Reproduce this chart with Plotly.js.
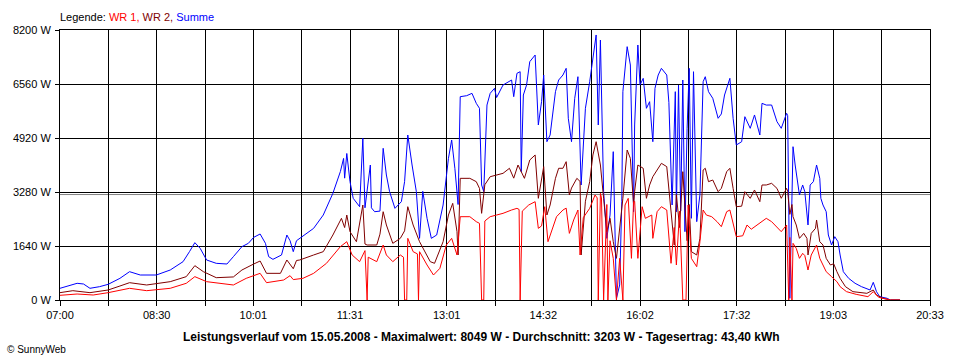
<!DOCTYPE html>
<html><head><meta charset="utf-8">
<script src="https://cdn.plot.ly/plotly-3.0.1.min.js"></script>
<style>body{margin:0;background:#fff}#chart{width:960px;height:360px}</style>
</head><body><div id="chart"></div>
<script>
// ---- data ----
const xTickLabels = ["07:00","08:30","10:01","11:31","13:01","14:32","16:02","17:32","19:03","20:33"];
const yTickValues = [0,1640,3280,4920,6560,8200];
const averageW = [3203];

const sumTimes = ["07:00","07:16","07:22","07:28","07:37","07:45","07:56","08:05","08:15","08:30","08:43","08:55","09:01","09:06","09:11","09:17","09:26","09:36","09:42","09:50","09:56","10:01","10:07","10:12","10:15","10:19","10:27","10:32","10:35","10:38","10:41","10:44","10:57","11:06","11:15","11:22","11:25","11:26","11:28","11:31","11:34","11:40","11:43","11:45","11:50","11:51","11:54","11:59","12:02","12:05","12:08","12:13","12:19","12:22","12:25","12:29","12:33","12:36","12:39","12:43","12:47","12:52","12:58","13:03","13:06","13:09","13:12","13:14","13:20","13:25","13:29","13:32","13:34","13:36","13:39","13:42","13:46","13:48","13:54","14:02","14:04","14:07","14:10","14:11","14:13","14:16","14:19","14:24","14:27","14:30","14:32","14:35","14:38","14:43","14:46","14:50","14:53","14:55","14:58","15:01","15:04","15:07","15:11","15:15","15:18","15:21","15:23","15:25","15:28","15:31","15:34","15:37","15:40","15:43","15:45","15:46","15:50","15:53","15:56","15:57","16:00","16:02","16:05","16:08","16:11","16:14","16:16","16:19","16:22","16:27","16:29","16:32","16:35","16:36","16:38","16:40","16:42","16:44","16:46","16:48","16:50","16:52","16:55","16:58","17:01","17:03","17:06","17:10","17:15","17:18","17:21","17:26","17:29","17:32","17:37","17:40","17:45","17:49","17:54","17:56","18:00","18:05","18:10","18:14","18:19","18:20","18:22","18:24","18:25","18:27","18:30","18:31","18:34","18:36","18:39","18:41","18:44","18:47","18:50","18:51","18:53","18:56","18:58","19:01","19:04","19:07","19:09","19:12","19:17","19:23","19:29","19:37","19:40","19:43","19:46","19:53","19:56","20:05"];
const sumW = [355,507,486,355,405,476,658,860,759,759,911,1164,1468,1741,1569,1215,1114,1093,1316,1620,1721,1903,2004,1721,1316,1235,1367,1974,1800,1468,1800,1873,2176,2581,3240,3900,4300,3700,4450,3594,3088,2834,4911,2800,4100,2800,2682,2700,4607,3796,3290,2784,2986,3594,5011,4100,3290,1873,3300,2480,1873,1974,2885,4302,4859,4000,2900,6175,6205,6276,5973,5822,3493,3290,5922,6276,6428,6150,6529,6681,6175,6884,6934,3897,6226,6529,7238,7440,5315,6023,6833,4808,5011,6327,6681,6833,7036,5518,4808,6125,6782,3493,5822,6630,7340,8049,5315,7896,3290,1873,2581,4505,51,456,3000,6327,7694,7137,2682,5315,7744,6529,6732,5822,6023,4808,6428,6833,7036,6833,6000,2885,6327,2682,6529,2700,6681,2075,5200,7036,2480,6934,2379,3200,6630,6782,6327,6125,5518,5650,6226,6732,5518,4707,4808,5567,5214,5619,5011,5973,5920,5922,5416,5214,5670,5600,51,2885,4656,4100,3493,3189,3493,3290,2278,3493,3594,4100,3695,3088,2885,2682,1974,1670,1923,1771,1367,860,658,507,405,304,537,253,101,51,0,0];

const wr2Times = ["07:00","07:12","07:28","07:45","07:56","08:05","08:21","08:43","08:58","09:06","09:14","09:26","09:42","09:50","10:01","10:07","10:13","10:26","10:32","10:35","10:38","10:41","10:44","10:57","11:06","11:15","11:23","11:26","11:28","11:31","11:37","11:43","11:45","11:47","11:56","11:59","12:02","12:05","12:11","12:18","12:22","12:25","12:30","12:36","12:46","12:50","12:58","13:03","13:07","13:11","13:12","13:14","13:23","13:29","13:32","13:34","13:37","13:42","13:48","13:54","14:00","14:04","14:08","14:11","14:14","14:19","14:24","14:27","14:30","14:32","14:35","14:38","14:43","14:46","14:50","14:53","14:56","14:58","15:03","15:06","15:07","15:11","15:15","15:18","15:21","15:25","15:28","15:31","15:34","15:37","15:40","15:43","15:46","15:50","15:53","15:56","15:57","16:00","16:05","16:08","16:11","16:14","16:19","16:22","16:27","16:31","16:34","16:36","16:39","16:42","16:46","16:48","16:50","16:55","16:58","17:01","17:03","17:06","17:10","17:15","17:18","17:23","17:26","17:29","17:32","17:37","17:40","17:45","17:49","17:54","17:56","18:00","18:05","18:10","18:14","18:19","18:20","18:22","18:24","18:25","18:28","18:31","18:35","18:38","18:39","18:42","18:46","18:47","18:50","18:53","18:56","19:00","19:03","19:06","19:09","19:14","19:21","19:34","19:40","19:43","19:49","19:56","20:05"];
const wr2W = [223,283,223,304,425,526,456,557,709,1043,860,678,700,911,1093,1184,810,810,1215,1100,950,1200,1215,1367,1468,1974,2480,2200,2581,2075,1771,2885,1700,1670,1670,2000,2682,2278,1721,1873,2100,2834,2278,1771,1164,1114,1771,2581,2936,2075,1367,3695,3695,3594,3391,2632,3500,3745,3796,3847,4000,3700,4100,3900,3695,4252,4404,3088,3600,4050,2581,2885,3695,4000,4000,4201,3189,3400,3695,3600,1367,3000,3594,4404,4808,4100,3088,2075,2480,1771,1265,2200,3088,4555,4302,2900,3300,4100,4000,3088,3493,3745,4000,4151,4050,2682,1670,3200,2200,3897,1800,2900,1468,1367,1873,3948,4000,3594,3644,3290,3390,3897,4000,3391,2834,2850,3290,3088,3341,2986,3493,3493,3543,3390,3088,3391,3300,2600,2900,2530,2278,1873,2024,1873,1367,2024,2176,2430,1771,1670,1265,1063,1100,860,658,405,253,203,304,152,51,0,0];

const wr1Times = ["07:00","07:16","07:31","07:45","08:05","08:21","08:43","08:58","09:06","09:17","09:42","09:54","10:07","10:13","10:29","10:35","10:38","10:47","10:57","11:09","11:22","11:28","11:33","11:40","11:45","11:47","11:48","11:56","12:02","12:05","12:11","12:18","12:21","12:22","12:24","12:25","12:30","12:34","12:35","12:36","12:43","12:49","12:55","13:01","13:06","13:11","13:14","13:23","13:29","13:32","13:34","13:36","13:37","13:42","13:48","13:54","14:02","14:07","14:09","14:10","14:12","14:18","14:24","14:27","14:30","14:33","14:36","14:39","14:44","14:50","14:53","14:56","15:00","15:04","15:06","15:09","15:15","15:20","15:22","15:23","15:25","15:26","15:28","15:31","15:32","15:34","15:37","15:40","15:43","15:46","15:48","15:51","15:54","15:56","15:57","16:00","16:04","16:07","16:13","16:14","16:18","16:22","16:27","16:31","16:34","16:36","16:39","16:42","16:45","16:47","16:50","16:55","16:58","17:01","17:04","17:09","17:14","17:18","17:23","17:26","17:29","17:32","17:38","17:42","17:46","17:51","17:56","18:00","18:05","18:10","18:14","18:19","18:21","18:22","18:24","18:25","18:28","18:31","18:34","18:36","18:39","18:42","18:47","18:50","18:53","18:56","19:01","19:06","19:09","19:15","19:24","19:35","19:40","19:45","19:56","20:05"];
const wr1W = [142,182,152,223,355,283,355,507,709,557,456,658,810,526,607,739,620,658,810,1114,1620,1771,1367,1164,1500,0,1300,1164,1670,1367,1164,1367,1300,0,0,1873,1468,1400,0,1468,1063,759,962,1670,1873,1367,2530,2530,2379,2328,0,0,2400,2530,2581,2632,2733,2784,2750,0,2700,2885,2986,2176,2250,2834,1771,2075,2530,2733,2790,2024,2430,2733,1367,2500,2784,3189,3100,0,3240,3100,0,2900,0,1800,1265,0,1265,0,2885,3088,1265,2986,3000,1265,2834,2480,2581,1873,2682,2834,2733,1114,2200,1063,2700,0,0,2885,1265,1012,1771,2733,2581,2530,2379,2227,2682,2733,2278,1923,1950,2278,2150,2278,2379,2480,2379,2227,2075,2278,0,1900,0,1721,1569,1265,1417,1350,911,1367,1670,1265,1063,860,709,557,405,253,172,101,253,81,0,0];

// ---- helpers ----
function toMin(s){ const p = s.split(":"); return (+p[0])*60 + (+p[1]); }
const x0 = toMin(xTickLabels[0]), x1 = toMin(xTickLabels[xTickLabels.length-1]);
const nInt = (xTickLabels.length-1)*2;
const tickvals = [], ticktext = [];
for (let k=0;k<=nInt;k++){ tickvals.push(x0 + k*(x1-x0)/nInt); ticktext.push(k%2===0 ? xTickLabels[k/2] : ""); }

const FONT = "Liberation Sans, Arial, sans-serif";
const mk = (t, v, color) => ({type:"scatter", mode:"lines", x:t.map(toMin), y:v,
  line:{color:color, width:1}, hoverinfo:"skip", showlegend:false});

const data = [
  mk(sumTimes, sumW, "#0000ff"),
  mk(wr2Times, wr2W, "#800000"),
  mk(wr1Times, wr1W, "#ff0000")
];

const axisCommon = {showgrid:true, gridcolor:"#000", gridwidth:1, showline:true, linecolor:"#000",
  linewidth:1, mirror:true, zeroline:false, ticks:"outside", tickcolor:"#000", tickwidth:1,
  tickfont:{family:FONT, size:11, color:"#000"}, fixedrange:true};

const layout = {
  width:960, height:360,
  margin:{l:60, r:30, t:30, b:60, pad:0},
  paper_bgcolor:"#fff", plot_bgcolor:"#fff",
  showlegend:false,
  xaxis:Object.assign({}, axisCommon, {range:[x0,x1], tickmode:"array", tickvals:tickvals, ticktext:ticktext, ticklen:5}),
  yaxis:Object.assign({}, axisCommon, {range:[yTickValues[0], yTickValues[yTickValues.length-1]], tickmode:"array",
    tickvals:yTickValues, ticktext:yTickValues.map(v=>v+" W"), ticklen:4, ticklabelstandoff:2}),
  shapes:[{type:"line", xref:"paper", x0:0, x1:1, yref:"y", y0:averageW[0], y1:averageW[0],
    line:{color:"#808080", width:1}, layer:"below"}],
  annotations:[
    {xref:"paper", yref:"paper", x:-0.002, y:1.048, xanchor:"left", yanchor:"middle", showarrow:false,
     font:{family:FONT, size:11, color:"#000"},
     text:"Legende: <span style='color:#ff0000'>WR 1, </span><span style='color:#800000'>WR 2, </span><span style='color:#0000ff'>Summe</span>"},
    {xref:"paper", yref:"paper", x:0.484, y:-0.137, xanchor:"center", yanchor:"middle", showarrow:false,
     font:{family:FONT, size:12, color:"#000"},
     text:"<b>Leistungsverlauf vom 15.05.2008 - Maximalwert: 8049 W - Durchschnitt: 3203 W - Tagesertrag: 43,40 kWh</b>"},
    {xref:"paper", yref:"paper", x:-0.0632, y:-0.1815, xanchor:"left", yanchor:"middle", showarrow:false,
     font:{family:FONT, size:10, color:"#000"}, text:"© SunnyWeb"}
  ]
};

Plotly.newPlot("chart", data, layout, {staticPlot:true, displayModeBar:false});
</script></body></html>
